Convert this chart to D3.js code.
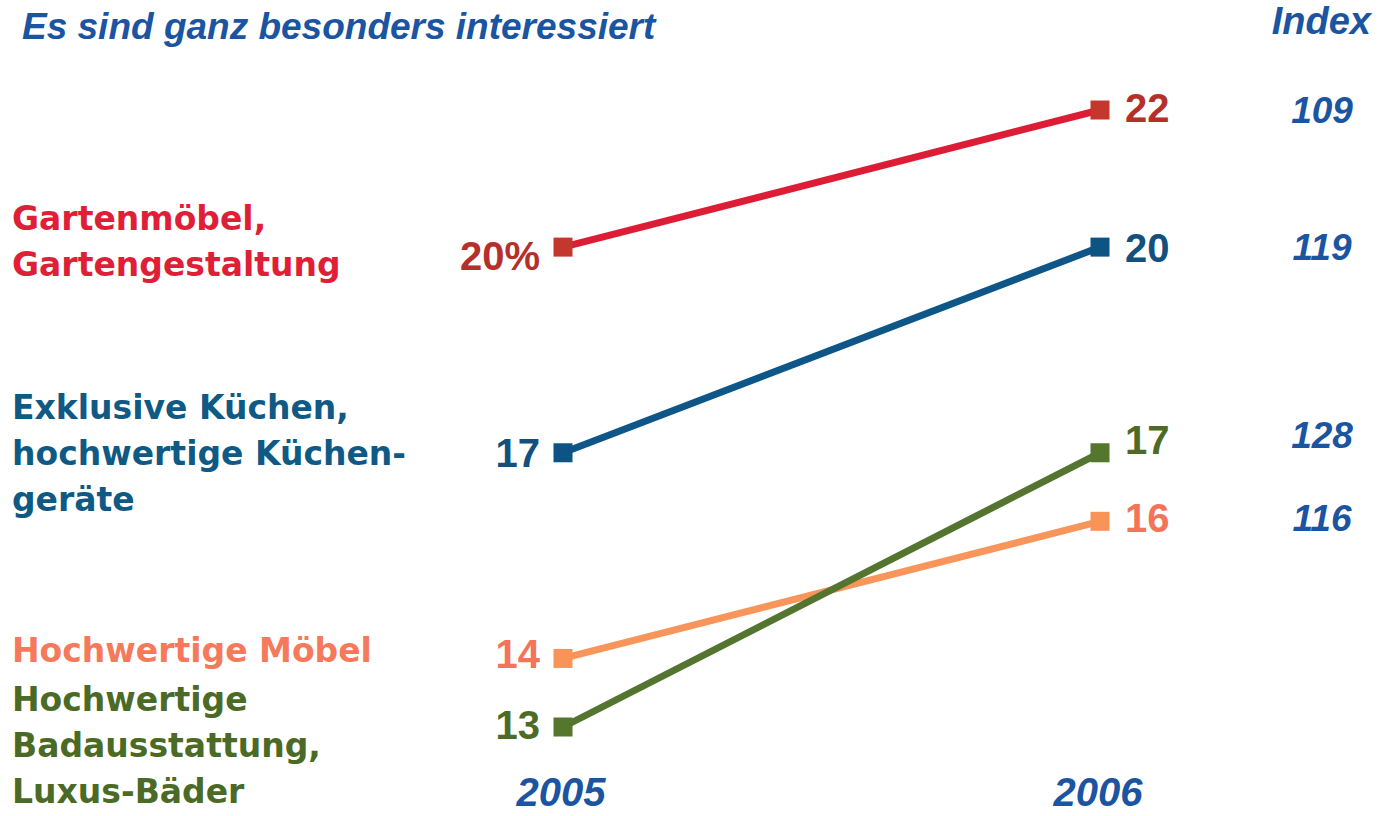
<!DOCTYPE html>
<html>
<head>
<meta charset="utf-8">
<script src="https://cdn.jsdelivr.net/npm/d3@7"></script>
<style>
  html, body { margin: 0; padding: 0; background: #ffffff; }
  svg { display: block; }
</style>
</head>
<body>
<svg id="chart" width="1379" height="816"></svg>
<script>
// Share of respondents who are especially interested (%), 2005 vs 2006
const years = ["2005", "2006"];
const seriesNames = [
  "Gartenmöbel, Gartengestaltung",
  "Exklusive Küchen, hochwertige Küchengeräte",
  "Hochwertige Möbel",
  "Hochwertige Badausstattung, Luxus-Bäder"
];
const values2005 = [20, 17, 14, 13];
const values2006 = [22, 20, 16, 17];
const indexValues = [109, 119, 116, 128];
const labelLines = [
  ["Gartenmöbel,", "Gartengestaltung"],
  ["Exklusive Küchen,", "hochwertige Küchen-", "geräte"],
  ["Hochwertige Möbel"],
  ["Hochwertige", "Badausstattung,", "Luxus-Bäder"]
];

// Styling per series: line, marker, value text, category text
const styles = [
  { line: "#dd1d35", marker: "#c4372c", value: "#b5302a", cat: "#df1f37" },
  { line: "#0d5687", marker: "#0d5384", value: "#12507e", cat: "#0f5a85" },
  { line: "#f8955a", marker: "#f99458", value: "#f4745a", cat: "#f5795a" },
  { line: "#53752f", marker: "#55772d", value: "#4d6b26", cat: "#4a6a25" }
];
const headBlue = "#1b54a0";

const svg = d3.select("#chart");

const x = d3.scalePoint().domain(years).range([563, 1100]);
const y = d3.scaleLinear().domain([13, 22]).range([727, 110]);

const data = seriesNames.map((name, i) => ({
  name, i,
  points: [
    { year: years[0], value: values2005[i] },
    { year: years[1], value: values2006[i] }
  ],
  index: indexValues[i],
  lines: labelLines[i]
}));

// Title and index heading
svg.append("text")
  .attr("x", 22).attr("y", 39)
  .attr("font-family", "Liberation Sans, Arial, sans-serif")
  .attr("font-weight", "bold").attr("font-style", "italic")
  .attr("font-size", 37).attr("fill", headBlue)
  .text("Es sind ganz besonders interessiert");

svg.append("text")
  .attr("x", 1371).attr("y", 34).attr("text-anchor", "end")
  .attr("font-family", "Liberation Sans, Arial, sans-serif")
  .attr("font-weight", "bold").attr("font-style", "italic")
  .attr("font-size", 38).attr("fill", headBlue)
  .text("Index");

// Lines (orange drawn before green so green crosses on top)
const line = d3.line().x(d => x(d.year)).y(d => y(d.value));

svg.append("g").selectAll("path")
  .data(data)
  .join("path")
  .attr("d", d => line(d.points))
  .attr("fill", "none")
  .attr("stroke", d => styles[d.i].line)
  .attr("stroke-width", 7);

// Square markers
const ms = 19;
svg.append("g").selectAll("g")
  .data(data)
  .join("g")
  .each(function(d) {
    d3.select(this).selectAll("rect")
      .data(d.points)
      .join("rect")
      .attr("x", p => x(p.year) - ms / 2)
      .attr("y", p => y(p.value) - ms / 2)
      .attr("width", ms).attr("height", ms)
      .attr("fill", styles[d.i].marker);
  });

// Value labels; a few nudges keep labels clear of neighbouring lines
const nudge2005 = [8, 0, -5, -2];
const nudge2006 = [-2, 0, -4, -13];
const valueFont = "Liberation Sans, Arial, sans-serif";

svg.append("g").selectAll("text")
  .data(data)
  .join("text")
  .attr("x", 540)
  .attr("y", d => y(d.points[0].value) + nudge2005[d.i])
  .attr("dy", "0.36em")
  .attr("text-anchor", "end")
  .attr("font-family", valueFont).attr("font-weight", "bold")
  .attr("font-size", 40)
  .attr("fill", d => styles[d.i].value)
  .text(d => d.i === 0 ? d.points[0].value + "%" : d.points[0].value);

svg.append("g").selectAll("text")
  .data(data)
  .join("text")
  .attr("x", 1125)
  .attr("y", d => y(d.points[1].value) + nudge2006[d.i])
  .attr("dy", "0.36em")
  .attr("font-family", valueFont).attr("font-weight", "bold")
  .attr("font-size", 40)
  .attr("fill", d => styles[d.i].value)
  .text(d => d.points[1].value);

// Index column
const indexNudge = [0, 0, -4, -18];
svg.append("g").selectAll("text")
  .data(data)
  .join("text")
  .attr("x", 1322)
  .attr("y", d => y(d.points[1].value) + indexNudge[d.i])
  .attr("dy", "0.36em")
  .attr("text-anchor", "middle")
  .attr("font-family", "Liberation Sans, Arial, sans-serif")
  .attr("font-weight", "bold").attr("font-style", "italic")
  .attr("font-size", 37).attr("fill", headBlue)
  .text(d => d.index);

// Category labels to the left
const lineGap = 46;
const catShift = [-6, 0, -8, 18];
svg.append("g").selectAll("text")
  .data(data)
  .join("text")
  .attr("font-family", "DejaVu Sans, sans-serif")
  .attr("font-weight", "bold")
  .attr("font-size", 33)
  .attr("fill", d => styles[d.i].cat)
  .each(function(d) {
    const n = d.lines.length;
    const cy = y(d.points[0].value) + catShift[d.i];
    const firstBase = cy - (n - 1) * lineGap / 2 + 12;
    d3.select(this).selectAll("tspan")
      .data(d.lines)
      .join("tspan")
      .attr("x", 12)
      .attr("y", (t, k) => firstBase + k * lineGap)
      .text(t => t);
  });

// Year axis
svg.append("g").selectAll("text")
  .data(years)
  .join("text")
  .attr("x", d => x(d) - 2)
  .attr("y", 806)
  .attr("text-anchor", "middle")
  .attr("font-family", "Liberation Sans, Arial, sans-serif")
  .attr("font-weight", "bold").attr("font-style", "italic")
  .attr("font-size", 40).attr("fill", headBlue)
  .text(d => d);
</script>
</body>
</html>
